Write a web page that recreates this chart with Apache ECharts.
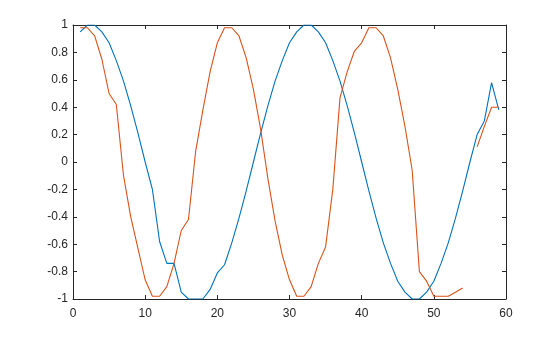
<!DOCTYPE html>
<html>
<head>
<meta charset="utf-8">
<script src="https://cdn.jsdelivr.net/npm/echarts@6/dist/echarts.min.js"></script>
<style>
html,body{margin:0;padding:0;background:#fff;}
#chart{width:560px;height:337px;}
</style>
</head>
<body>
<div id="chart"></div>
<script>
var xValues = [1,2,3,4,5,6,7,8,9,10,11,12,13,14,15,16,17,18,19,20,21,22,23,24,25,26,27,28,29,30,31,32,33,34,35,36,37,38,39,40,41,42,43,44,45,46,47,48,49,50,51,52,53,54,55,56,57,58,59];
var blueValues = [0.95,1.0,1.0,0.95,0.87,0.74,0.59,0.41,0.21,0.0,-0.2,-0.58,-0.74,-0.74,-0.95,-1.0,-1.0,-1.0,-0.93,-0.81,-0.75,-0.59,-0.41,-0.21,0.0,0.21,0.41,0.59,0.74,0.87,0.95,1.0,1.0,0.95,0.87,0.74,0.59,0.41,0.21,0.0,-0.21,-0.41,-0.59,-0.74,-0.87,-0.95,-1.0,-1.0,-0.95,-0.87,-0.74,-0.59,-0.41,-0.21,0.0,0.2,0.3,0.58,0.38];
var orangeValues = [0.98,0.98,0.92,0.75,0.5,0.42,-0.1,-0.4,-0.63,-0.86,-0.98,-0.98,-0.91,-0.74,-0.5,-0.42,0.08,0.38,0.66,0.87,0.98,0.98,0.92,0.76,0.53,0.24,-0.12,-0.43,-0.68,-0.86,-0.98,-0.98,-0.91,-0.74,-0.62,-0.2,0.47,0.66,0.81,0.87,0.98,0.98,0.92,0.76,0.53,0.26,-0.06,-0.8,-0.87,-0.98,-0.98,-0.98,-0.95,-0.92,null,0.11,0.26,0.4,0.4];
var xTicks = [0,10,20,30,40,50,60];
var yTicks = [-1,-0.8,-0.6,-0.4,-0.2,0,0.2,0.4,0.6,0.8,1];

function pairs(ys){ return xValues.map(function(x,i){ return [x, ys[i]]; }); }

var axisColor = '#262626';
var font = 'Helvetica, Arial, "Liberation Sans", sans-serif';
function xAxisDef(pos, showLabel){
  return {
    type:'value', position:pos, min:xTicks[0], max:xTicks[xTicks.length-1], interval:10,
    axisLine:{show:true, onZero:false, lineStyle:{color:axisColor, width:1}},
    axisTick:{show:true, inside:true, length:4, lineStyle:{color:axisColor}},
    axisLabel:{show:showLabel, color:axisColor, fontSize:12, fontFamily:font, margin:9},
    splitLine:{show:false}
  };
}
function yAxisDef(pos, showLabel){
  return {
    type:'value', position:pos, min:yTicks[0], max:yTicks[yTicks.length-1], interval:0.2,
    axisLine:{show:true, onZero:false, lineStyle:{color:axisColor, width:1}},
    axisTick:{show:true, inside:true, length:4, lineStyle:{color:axisColor}},
    axisLabel:{show:showLabel, color:axisColor, fontSize:12, fontFamily:font, margin:5,
      formatter:function(v){ return String(+(+v).toFixed(1)); }},
    splitLine:{show:false}
  };
}

var chart = echarts.init(document.getElementById('chart'), null, {renderer:'canvas'});
chart.setOption({
  animation:false,
  backgroundColor:'#fff',
  grid:{left:73, right:54, top:25, bottom:38, containLabel:false},
  xAxis:[xAxisDef('bottom', true), xAxisDef('top', false)],
  yAxis:[yAxisDef('left', true), yAxisDef('right', false)],
  series:[
    {type:'line', data:pairs(blueValues), showSymbol:false, symbol:'none', connectNulls:false,
     lineStyle:{color:'#0072BD', width:1.1}, itemStyle:{color:'#0072BD'}},
    {type:'line', data:pairs(orangeValues), showSymbol:false, symbol:'none', connectNulls:false,
     lineStyle:{color:'#D95319', width:1.1}, itemStyle:{color:'#D95319'}}
  ]
});
</script>
</body>
</html>
